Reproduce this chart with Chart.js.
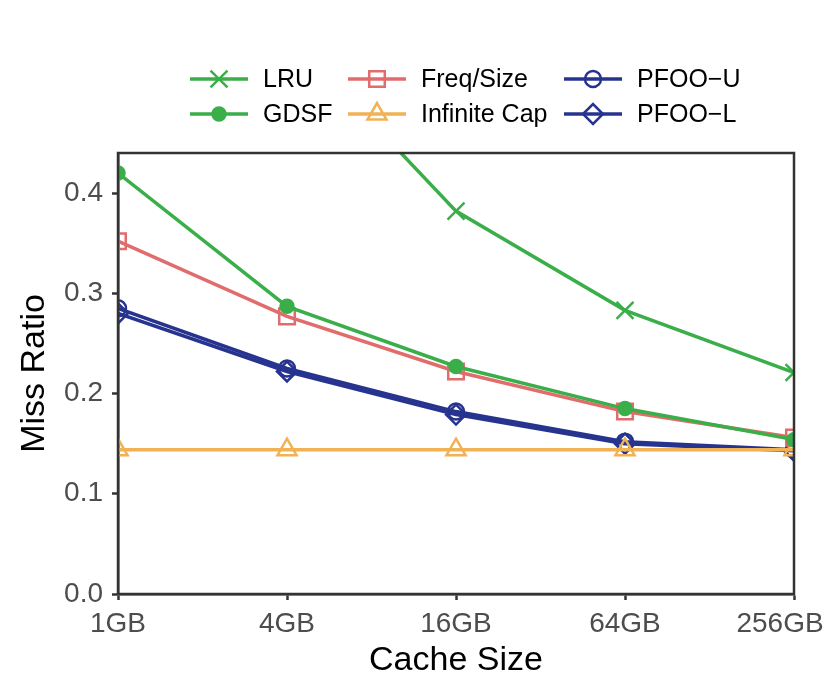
<!DOCTYPE html>
<html>
<head>
<meta charset="utf-8">
<script src="https://cdn.jsdelivr.net/npm/chart.js@4"></script>
<style>
  html, body { margin: 0; padding: 0; background: #fff; }
  canvas { display: block; }
</style>
</head>
<body>
<canvas id="myChart" width="830" height="693"></canvas>
<script>
const categories = ['1GB', '4GB', '16GB', '64GB', '256GB'];
const yTicks = [0, 0.1, 0.2, 0.3, 0.4];

const lru = [0.74, 0.56, 0.382, 0.283, 0.221];
const gdsf = [0.420, 0.287, 0.227, 0.185, 0.154];
const freqSize = [0.352, 0.277, 0.222, 0.182, 0.156];
const infiniteCap = [0.144, 0.144, 0.144, 0.144, 0.144];
const pfooU = [0.285, 0.225, 0.182, 0.152, 0.144];
const pfooL = [0.280, 0.222, 0.179, 0.150, 0.143];

const green = '#3aae49';
const red = '#e06c6c';
const orange = '#f0b254';
const blue = '#27348f';
const font = "'Liberation Sans', Arial, sans-serif";

function serie(label, data, color, style, radius, filled) {
  return {
    label: label,
    data: data,
    borderColor: color,
    backgroundColor: filled ? color : 'rgba(0,0,0,0)',
    borderWidth: 3.5,
    pointStyle: style,
    pointRadius: radius,
    pointHoverRadius: radius,
    pointBorderWidth: 2.5,
    pointBorderColor: color,
    pointBackgroundColor: filled ? color : 'rgba(0,0,0,0)',
    tension: 0,
    fill: false,
    clip: 0
  };
}

const dados = {
  labels: categories,
  datasets: [
    serie('LRU', lru, green, 'crossRot', 12, false),
    serie('GDSF', gdsf, green, 'circle', 6.5, true),
    serie('Freq/Size', freqSize, red, 'rect', 11, false),
    serie('Infinite Cap', infiniteCap, orange, 'triangle', 11, false),
    serie('PFOO\u2212U', pfooU, blue, 'circle', 8, false),
    serie('PFOO\u2212L', pfooL, blue, 'rectRot', 10, false)
  ]
};

// legend in 3 columns x 2 rows + box around the plot
const legendaPlugin = {
  id: 'legenda',
  afterDraw(chart) {
    const ctx = chart.ctx;
    const a = chart.chartArea;
    ctx.save();
    ctx.strokeStyle = '#333';
    ctx.lineWidth = 2.5;
    ctx.strokeRect(a.left, a.top, a.right - a.left, a.bottom - a.top);

    const cols = [190, 348, 564];
    const rows = [79, 114];
    chart.data.datasets.forEach((ds, i) => {
      const x0 = cols[Math.floor(i / 2)];
      const y = rows[i % 2];
      ctx.strokeStyle = ds.borderColor;
      ctx.lineWidth = ds.borderWidth;
      ctx.beginPath();
      ctx.moveTo(x0, y);
      ctx.lineTo(x0 + 58, y);
      ctx.stroke();
      ctx.fillStyle = ds.pointBackgroundColor;
      ctx.strokeStyle = ds.pointBorderColor;
      ctx.lineWidth = ds.pointBorderWidth;
      Chart.helpers.drawPoint(ctx, {
        pointStyle: ds.pointStyle,
        radius: ds.pointRadius,
        rotation: 0,
        borderWidth: ds.pointBorderWidth
      }, x0 + 29, y);
      ctx.fillStyle = '#000';
      ctx.font = '25px ' + font;
      ctx.textBaseline = 'middle';
      ctx.textAlign = 'left';
      ctx.fillText(ds.label, x0 + 73, y + 1);
    });
    ctx.restore();
  }
};

const config = {
  type: 'line',
  data: dados,
  plugins: [legendaPlugin],
  options: {
    responsive: false,
    animation: false,
    layout: { padding: { top: 153, right: 36, left: 0, bottom: 0 } },
    scales: {
      x: {
        grid: { display: true, drawOnChartArea: false, drawTicks: true, tickLength: 6, tickWidth: 2.5, tickColor: '#333' },
        border: { display: true, color: '#333', width: 2.5 },
        offset: false,
        ticks: {
          color: '#4d4d4d', font: { family: font, size: 28 }, padding: 7, maxRotation: 0, autoSkip: false,
          // keep the last label inside the canvas, like the original
          callback(v, i) {
            const t = categories[i];
            return i === categories.length - 1 ? t + '\u2002\u2002' : t;
          }
        },
        title: { display: true, text: 'Cache Size', color: '#000', font: { family: font, size: 34, lineHeight: 1 }, padding: { top: 0, bottom: 15 } },
        afterFit(s) { s.height = 99; s.paddingLeft = 0; s.paddingRight = 0; }
      },
      y: {
        min: 0,
        max: 0.44,
        grid: { display: true, drawOnChartArea: false, drawTicks: true, tickLength: 6, tickWidth: 2.5, tickColor: '#333' },
        border: { display: true, color: '#333', width: 2.5 },
        ticks: {
          color: '#4d4d4d', font: { family: font, size: 28 }, padding: 9,
          callback: v => v.toFixed(1)
        },
        afterBuildTicks(s) { s.ticks = yTicks.map(v => ({ value: v })); },
        title: { display: true, text: 'Miss Ratio', color: '#000', font: { family: font, size: 34, lineHeight: 1 }, padding: { top: 18, bottom: 0 } },
        afterFit(s) { s.width = 118; s.paddingTop = 0; s.paddingBottom = 0; }
      }
    },
    plugins: {
      legend: { display: false },
      tooltip: { enabled: false }
    }
  }
};

window.onload = function() {
  const ctx = document.getElementById('myChart').getContext('2d');
  new Chart(ctx, config);
};
</script>
</body>
</html>
